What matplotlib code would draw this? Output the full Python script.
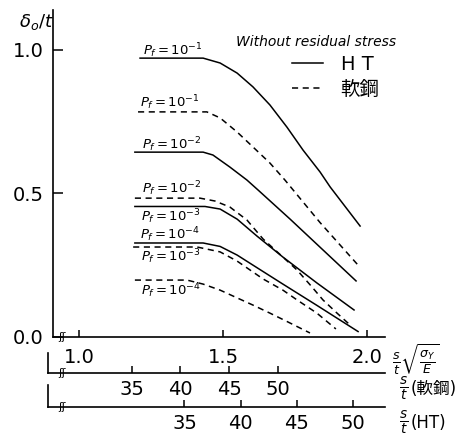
import numpy as np
import matplotlib
matplotlib.use('Agg')
import matplotlib.pyplot as plt
from matplotlib.lines import Line2D

plt.rcParams['font.family'] = ['DejaVu Sans', 'Noto Sans CJK JP']
plt.rcParams['mathtext.fontset'] = 'dejavusans'

# slenderness lam = s/t*sqrt(sy/E)  vs  delta_o/t
lam_ht1 = [1.212, 1.431, 1.490, 1.549, 1.604, 1.663, 1.722, 1.778, 1.837, 1.872, 1.976]
dt_ht1 = [0.970, 0.970, 0.953, 0.918, 0.870, 0.807, 0.730, 0.650, 0.574, 0.522, 0.386]

lam_ms1 = [1.205, 1.444, 1.490, 1.549, 1.604, 1.663, 1.715, 1.837, 1.969]
dt_ms1 = [0.783, 0.783, 0.762, 0.713, 0.661, 0.605, 0.546, 0.398, 0.250]

lam_ht2 = [1.194, 1.431, 1.465, 1.524, 1.583, 1.622, 1.733, 1.962]
dt_ht2 = [0.643, 0.643, 0.633, 0.591, 0.546, 0.511, 0.410, 0.195]

lam_ms2 = [1.194, 1.420, 1.472, 1.524, 1.583, 1.639, 1.708, 1.757, 1.809, 1.847, 1.896, 1.941]
dt_ms2 = [0.483, 0.483, 0.473, 0.452, 0.407, 0.341, 0.278, 0.233, 0.174, 0.129, 0.083, 0.042]

lam_ht3 = [1.194, 1.4375, 1.490, 1.549, 1.618, 1.708, 1.826, 1.955]
dt_ht3 = [0.454, 0.454, 0.445, 0.410, 0.351, 0.278, 0.188, 0.094]

lam_ht4 = [1.194, 1.431, 1.490, 1.549, 1.604, 1.708, 1.826, 1.969]
dt_ht4 = [0.327, 0.327, 0.315, 0.285, 0.250, 0.184, 0.110, 0.019]

lam_ms3 = [1.188, 1.410, 1.490, 1.549, 1.594, 1.639, 1.708, 1.757, 1.826, 1.892]
dt_ms3 = [0.313, 0.313, 0.296, 0.264, 0.233, 0.202, 0.163, 0.129, 0.083, 0.028]

lam_ms4 = [1.194, 1.375, 1.431, 1.490, 1.549, 1.604, 1.663, 1.722, 1.802]
dt_ms4 = [0.198, 0.198, 0.184, 0.163, 0.136, 0.111, 0.083, 0.054, 0.014]

# s/t scales
st_ticks_ms = [35, 40, 45, 50]
st_ticks_ht = [35, 40, 45, 50]
k_ms = np.sqrt(2400 / 2.1e6)
k_ht = np.sqrt(3200 / 2.1e6)

W, H = 470, 441
fig = plt.figure(figsize=(W / 100, H / 100), dpi=100)


def fx(px):
    return px / W


def fy(py):
    return 1 - py / H


lam0, lam1 = 0.9097, 2.0625
ax = fig.add_axes([fx(53), fy(337), (385 - 53) / W, (337 - 10) / H])
ax.set_xlim(lam0, lam1)
ax.set_ylim(0, 1.1374)
for s in ['top', 'right']:
    ax.spines[s].set_visible(False)
for s in ['left', 'bottom']:
    ax.spines[s].set_linewidth(1.2)
ax.set_xticks([1.0, 1.5, 2.0], ['1.0', '1.5', '2.0'])
ax.set_yticks([0.0, 0.5, 1.0], ['0.0', '0.5', '1.0'])
ax.tick_params(axis='x', direction='in', length=5, width=1.1, labelsize=14, pad=8)
ax.tick_params(axis='y', direction='in', length=7, width=1.1, labelsize=14, pad=7)

solid = dict(color='black', lw=1.1)
dash = dict(color='black', lw=1.1, ls=(0, (4, 3)))

ax.plot(lam_ht1, dt_ht1, **solid)
ax.plot(lam_ht2, dt_ht2, **solid)
ax.plot(lam_ht3, dt_ht3, **solid)
ax.plot(lam_ht4, dt_ht4, **solid)
ax.plot(lam_ms1, dt_ms1, **dash)
ax.plot(lam_ms2, dt_ms2, **dash)
ax.plot(lam_ms3, dt_ms3, **dash)
ax.plot(lam_ms4, dt_ms4, **dash)

lbl = dict(ha='center', va='center', fontsize=9.5)
ax.text(1.326, 0.996, r'$P_f=10^{-1}$', **lbl)
ax.text(1.316, 0.816, r'$P_f=10^{-1}$', **lbl)
ax.text(1.323, 0.670, r'$P_f=10^{-2}$', **lbl)
ax.text(1.323, 0.517, r'$P_f=10^{-2}$', **lbl)
ax.text(1.319, 0.418, r'$P_f=10^{-3}$', **lbl)
ax.text(1.316, 0.357, r'$P_f=10^{-4}$', **lbl)
ax.text(1.319, 0.280, r'$P_f=10^{-3}$', **lbl)
ax.text(1.319, 0.162, r'$P_f=10^{-4}$', **lbl)

ax.text(1.823, 1.026, 'Without residual stress', ha='center', va='center',
        fontsize=10, style='italic')

handles = [Line2D([], [], **solid), Line2D([], [], **dash)]
ax.legend(handles, ['H T', '軟鋼'], loc='upper left',
          bbox_to_anchor=(fx(292), fy(55)), bbox_transform=fig.transFigure,
          frameon=False, fontsize=14, handlelength=1.6, handletextpad=0.9,
          labelspacing=0.3, borderpad=0, borderaxespad=0)

fig.text(fx(36), fy(22), r'$\delta_o/t$', ha='center', va='center', fontsize=13)
fig.text(fx(416), fy(359), r'$\frac{s}{t}\sqrt{\frac{\sigma_Y}{E}}$',
         ha='center', va='center', fontsize=13)

# lower s/t scales
slam0 = 1 + (48 - 79) / 288
for ybase, ytop, st, k, name in [(373, 353, st_ticks_ms, k_ms, '(軟鋼)'),
                                  (407, 385, st_ticks_ht, k_ht, '(HT)')]:
    sa = fig.add_axes([fx(48), fy(ybase), (385 - 48) / W, (ybase - ytop) / H])
    sa.set_xlim(slam0, lam1)
    sa.patch.set_alpha(0)
    for s in ['top', 'right']:
        sa.spines[s].set_visible(False)
    for s in ['left', 'bottom']:
        sa.spines[s].set_linewidth(1.2)
    sa.set_yticks([])
    sa.set_xticks(np.array(st) * k, [str(v) for v in st])
    sa.tick_params(axis='x', direction='in', length=5, width=1.1, labelsize=14, pad=5)
    fig.text(fx(404), fy(ybase + 16), r'$\frac{s}{t}$', ha='center', va='center', fontsize=14)
    fig.text(fx(411), fy(ybase + 16), name, ha='left', va='center', fontsize=12)
    fig.text(fx(62), fy(ybase), 'ʃʃ', ha='center', va='center', fontsize=8)

fig.text(fx(62), fy(337), 'ʃʃ', ha='center', va='center', fontsize=8)

fig.savefig('out.png', dpi=100)
